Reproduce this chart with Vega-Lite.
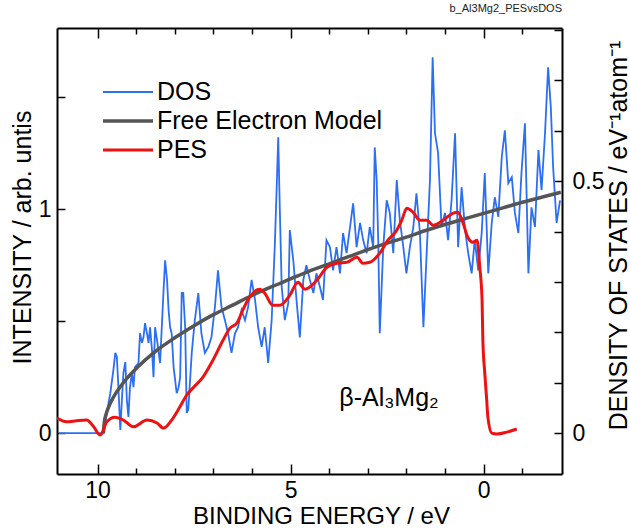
{
  "$schema": "https://vega.github.io/schema/vega-lite/v6.json",
  "width": 505,
  "height": 446,
  "autosize": "none",
  "padding": {"left": 57, "top": 28, "right": 68, "bottom": 55},
  "title": {"text": "b_Al3Mg2_PESvsDOS", "anchor": "end", "frame": "group", "fontSize": 11, "fontWeight": "normal", "font": "Liberation Sans", "color": "#222222", "offset": 5},
  "config": {
    "view": {"stroke": null},
    "font": "Liberation Sans",
    "axis": {"domainColor": "black", "domainWidth": 2, "tickColor": "black", "tickWidth": 1.5, "labelFont": "Liberation Sans", "labelFontSize": 23, "labelColor": "black", "titleFont": "Liberation Sans", "titleFontSize": 25, "titleFontWeight": "normal", "titleColor": "black", "grid": false, "labelOverlap": false, "labelFlush": false, "format": "~g"}
  },
  "datasets": {
    "dos": [
      {"be": 11.0, "v": 0, "s": "DOS"}, {"be": 9.84, "v": 0, "s": "DOS"}, {"be": 9.76, "v": 0.040, "s": "DOS"}, {"be": 9.67, "v": 0.079, "s": "DOS"}, {"be": 9.59, "v": 0.125, "s": "DOS"}, {"be": 9.54, "v": 0.159, "s": "DOS"}, {"be": 9.50, "v": 0.151, "s": "DOS"}, {"be": 9.46, "v": 0.091, "s": "DOS"}, {"be": 9.41, "v": 0.006, "s": "DOS"}, {"be": 9.37, "v": 0.065, "s": "DOS"}, {"be": 9.33, "v": 0.119, "s": "DOS"}, {"be": 9.28, "v": 0.141, "s": "DOS"}, {"be": 9.24, "v": 0.065, "s": "DOS"}, {"be": 9.20, "v": 0.032, "s": "DOS"}, {"be": 9.16, "v": 0.091, "s": "DOS"}, {"be": 9.11, "v": 0.119, "s": "DOS"}, {"be": 9.07, "v": 0.091, "s": "DOS"}, {"be": 9.03, "v": 0.131, "s": "DOS"}, {"be": 8.94, "v": 0.139, "s": "DOS"}, {"be": 8.90, "v": 0.198, "s": "DOS"}, {"be": 8.85, "v": 0.179, "s": "DOS"}, {"be": 8.81, "v": 0.190, "s": "DOS"}, {"be": 8.77, "v": 0.218, "s": "DOS"}, {"be": 8.72, "v": 0.198, "s": "DOS"}, {"be": 8.68, "v": 0.179, "s": "DOS"}, {"be": 8.64, "v": 0.210, "s": "DOS"}, {"be": 8.59, "v": 0.165, "s": "DOS"}, {"be": 8.55, "v": 0.111, "s": "DOS"}, {"be": 8.51, "v": 0.210, "s": "DOS"}, {"be": 8.46, "v": 0.185, "s": "DOS"}, {"be": 8.38, "v": 0.139, "s": "DOS"}, {"be": 8.29, "v": 0.284, "s": "DOS"}, {"be": 8.25, "v": 0.343, "s": "DOS"}, {"be": 8.20, "v": 0.304, "s": "DOS"}, {"be": 8.16, "v": 0.244, "s": "DOS"}, {"be": 8.12, "v": 0.210, "s": "DOS"}, {"be": 8.08, "v": 0.198, "s": "DOS"}, {"be": 8.03, "v": 0.131, "s": "DOS"}, {"be": 7.99, "v": 0.105, "s": "DOS"}, {"be": 7.95, "v": 0.079, "s": "DOS"}, {"be": 7.90, "v": 0.091, "s": "DOS"}, {"be": 7.86, "v": 0.111, "s": "DOS"}, {"be": 7.82, "v": 0.278, "s": "DOS"}, {"be": 7.78, "v": 0.278, "s": "DOS"}, {"be": 7.73, "v": 0.210, "s": "DOS"}, {"be": 7.69, "v": 0.040, "s": "DOS"}, {"be": 7.65, "v": 0.046, "s": "DOS"}, {"be": 7.56, "v": 0.159, "s": "DOS"}, {"be": 7.48, "v": 0.224, "s": "DOS"}, {"be": 7.39, "v": 0.278, "s": "DOS"}, {"be": 7.31, "v": 0.198, "s": "DOS"}, {"be": 7.22, "v": 0.159, "s": "DOS"}, {"be": 7.13, "v": 0.171, "s": "DOS"}, {"be": 7.05, "v": 0.190, "s": "DOS"}, {"be": 6.96, "v": 0.250, "s": "DOS"}, {"be": 6.88, "v": 0.323, "s": "DOS"}, {"be": 6.79, "v": 0.250, "s": "DOS"}, {"be": 6.70, "v": 0.224, "s": "DOS"}, {"be": 6.62, "v": 0.198, "s": "DOS"}, {"be": 6.53, "v": 0.159, "s": "DOS"}, {"be": 6.44, "v": 0.198, "s": "DOS"}, {"be": 6.36, "v": 0.210, "s": "DOS"}, {"be": 6.27, "v": 0.244, "s": "DOS"}, {"be": 6.18, "v": 0.224, "s": "DOS"}, {"be": 6.10, "v": 0.250, "s": "DOS"}, {"be": 6.01, "v": 0.304, "s": "DOS"}, {"be": 5.92, "v": 0.264, "s": "DOS"}, {"be": 5.84, "v": 0.210, "s": "DOS"}, {"be": 5.75, "v": 0.171, "s": "DOS"}, {"be": 5.67, "v": 0.210, "s": "DOS"}, {"be": 5.58, "v": 0.139, "s": "DOS"}, {"be": 5.49, "v": 0.224, "s": "DOS"}, {"be": 5.41, "v": 0.369, "s": "DOS"}, {"be": 5.36, "v": 0.488, "s": "DOS"}, {"be": 5.32, "v": 0.587, "s": "DOS"}, {"be": 5.28, "v": 0.448, "s": "DOS"}, {"be": 5.23, "v": 0.290, "s": "DOS"}, {"be": 5.15, "v": 0.224, "s": "DOS"}, {"be": 5.06, "v": 0.258, "s": "DOS"}, {"be": 5.02, "v": 0.403, "s": "DOS"}, {"be": 4.93, "v": 0.343, "s": "DOS"}, {"be": 4.84, "v": 0.258, "s": "DOS"}, {"be": 4.76, "v": 0.190, "s": "DOS"}, {"be": 4.67, "v": 0.304, "s": "DOS"}, {"be": 4.59, "v": 0.333, "s": "DOS"}, {"be": 4.50, "v": 0.304, "s": "DOS"}, {"be": 4.41, "v": 0.278, "s": "DOS"}, {"be": 4.33, "v": 0.317, "s": "DOS"}, {"be": 4.24, "v": 0.290, "s": "DOS"}, {"be": 4.16, "v": 0.264, "s": "DOS"}, {"be": 4.07, "v": 0.383, "s": "DOS"}, {"be": 3.98, "v": 0.369, "s": "DOS"}, {"be": 3.90, "v": 0.323, "s": "DOS"}, {"be": 3.81, "v": 0.369, "s": "DOS"}, {"be": 3.72, "v": 0.317, "s": "DOS"}, {"be": 3.64, "v": 0.397, "s": "DOS"}, {"be": 3.55, "v": 0.357, "s": "DOS"}, {"be": 3.46, "v": 0.409, "s": "DOS"}, {"be": 3.38, "v": 0.456, "s": "DOS"}, {"be": 3.29, "v": 0.369, "s": "DOS"}, {"be": 3.20, "v": 0.417, "s": "DOS"}, {"be": 3.12, "v": 0.383, "s": "DOS"}, {"be": 3.03, "v": 0.357, "s": "DOS"}, {"be": 2.95, "v": 0.409, "s": "DOS"}, {"be": 2.86, "v": 0.369, "s": "DOS"}, {"be": 2.82, "v": 0.567, "s": "DOS"}, {"be": 2.77, "v": 0.502, "s": "DOS"}, {"be": 2.73, "v": 0.383, "s": "DOS"}, {"be": 2.69, "v": 0.198, "s": "DOS"}, {"be": 2.60, "v": 0.369, "s": "DOS"}, {"be": 2.51, "v": 0.462, "s": "DOS"}, {"be": 2.43, "v": 0.437, "s": "DOS"}, {"be": 2.34, "v": 0.357, "s": "DOS"}, {"be": 2.25, "v": 0.502, "s": "DOS"}, {"be": 2.17, "v": 0.423, "s": "DOS"}, {"be": 2.08, "v": 0.369, "s": "DOS"}, {"be": 2.00, "v": 0.317, "s": "DOS"}, {"be": 1.91, "v": 0.369, "s": "DOS"}, {"be": 1.82, "v": 0.409, "s": "DOS"}, {"be": 1.74, "v": 0.476, "s": "DOS"}, {"be": 1.65, "v": 0.397, "s": "DOS"}, {"be": 1.56, "v": 0.210, "s": "DOS"}, {"be": 1.48, "v": 0.349, "s": "DOS"}, {"be": 1.39, "v": 0.502, "s": "DOS"}, {"be": 1.32, "v": 0.746, "s": "DOS"}, {"be": 1.26, "v": 0.595, "s": "DOS"}, {"be": 1.18, "v": 0.556, "s": "DOS"}, {"be": 1.09, "v": 0.409, "s": "DOS"}, {"be": 1.00, "v": 0.437, "s": "DOS"}, {"be": 0.92, "v": 0.383, "s": "DOS"}, {"be": 0.83, "v": 0.462, "s": "DOS"}, {"be": 0.74, "v": 0.595, "s": "DOS"}, {"be": 0.66, "v": 0.369, "s": "DOS"}, {"be": 0.57, "v": 0.488, "s": "DOS"}, {"be": 0.48, "v": 0.403, "s": "DOS"}, {"be": 0.40, "v": 0.357, "s": "DOS"}, {"be": 0.31, "v": 0.317, "s": "DOS"}, {"be": 0.23, "v": 0.383, "s": "DOS"}, {"be": 0.14, "v": 0.323, "s": "DOS"}, {"be": 0.05, "v": 0.397, "s": "DOS"}, {"be": -0.03, "v": 0.516, "s": "DOS"}, {"be": -0.12, "v": 0.317, "s": "DOS"}, {"be": -0.21, "v": 0.417, "s": "DOS"}, {"be": -0.29, "v": 0.468, "s": "DOS"}, {"be": -0.38, "v": 0.429, "s": "DOS"}, {"be": -0.47, "v": 0.548, "s": "DOS"}, {"be": -0.55, "v": 0.601, "s": "DOS"}, {"be": -0.64, "v": 0.496, "s": "DOS"}, {"be": -0.73, "v": 0.508, "s": "DOS"}, {"be": -0.81, "v": 0.437, "s": "DOS"}, {"be": -0.90, "v": 0.397, "s": "DOS"}, {"be": -0.98, "v": 0.516, "s": "DOS"}, {"be": -1.07, "v": 0.615, "s": "DOS"}, {"be": -1.16, "v": 0.317, "s": "DOS"}, {"be": -1.24, "v": 0.448, "s": "DOS"}, {"be": -1.33, "v": 0.409, "s": "DOS"}, {"be": -1.42, "v": 0.562, "s": "DOS"}, {"be": -1.50, "v": 0.482, "s": "DOS"}, {"be": -1.59, "v": 0.595, "s": "DOS"}, {"be": -1.67, "v": 0.726, "s": "DOS"}, {"be": -1.74, "v": 0.647, "s": "DOS"}, {"be": -1.80, "v": 0.528, "s": "DOS"}, {"be": -1.89, "v": 0.417, "s": "DOS"}, {"be": -1.98, "v": 0.462, "s": "DOS"}
    ],
    "fem": [
      {"be": 9.85, "v": 0, "s": "Free Electron Model"}, {"be": 9.82, "v": 0.024, "s": "Free Electron Model"}, {"be": 9.78, "v": 0.037, "s": "Free Electron Model"}, {"be": 9.7, "v": 0.054, "s": "Free Electron Model"}, {"be": 9.6, "v": 0.0695, "s": "Free Electron Model"}, {"be": 9.4, "v": 0.093, "s": "Free Electron Model"}, {"be": 9.2, "v": 0.112, "s": "Free Electron Model"}, {"be": 9.0, "v": 0.128, "s": "Free Electron Model"}, {"be": 8.5, "v": 0.162, "s": "Free Electron Model"}, {"be": 8.0, "v": 0.189, "s": "Free Electron Model"}, {"be": 7.5, "v": 0.213, "s": "Free Electron Model"}, {"be": 7.0, "v": 0.235, "s": "Free Electron Model"}, {"be": 6.5, "v": 0.254, "s": "Free Electron Model"}, {"be": 6.0, "v": 0.273, "s": "Free Electron Model"}, {"be": 5.5, "v": 0.290, "s": "Free Electron Model"}, {"be": 5.0, "v": 0.306, "s": "Free Electron Model"}, {"be": 4.5, "v": 0.322, "s": "Free Electron Model"}, {"be": 4.0, "v": 0.336, "s": "Free Electron Model"}, {"be": 3.5, "v": 0.350, "s": "Free Electron Model"}, {"be": 3.0, "v": 0.364, "s": "Free Electron Model"}, {"be": 2.5, "v": 0.377, "s": "Free Electron Model"}, {"be": 2.0, "v": 0.389, "s": "Free Electron Model"}, {"be": 1.5, "v": 0.402, "s": "Free Electron Model"}, {"be": 1.0, "v": 0.414, "s": "Free Electron Model"}, {"be": 0.5, "v": 0.425, "s": "Free Electron Model"}, {"be": 0.0, "v": 0.436, "s": "Free Electron Model"}, {"be": -0.5, "v": 0.447, "s": "Free Electron Model"}, {"be": -1.0, "v": 0.458, "s": "Free Electron Model"}, {"be": -1.5, "v": 0.468, "s": "Free Electron Model"}, {"be": -2.0, "v": 0.478, "s": "Free Electron Model"}
    ],
    "pes": [
      {"be": 11.05, "v": 0.067, "s": "PES"}, {"be": 10.80, "v": 0.050, "s": "PES"}, {"be": 10.54, "v": 0.055, "s": "PES"}, {"be": 10.28, "v": 0.058, "s": "PES"}, {"be": 10.10, "v": 0.028, "s": "PES"}, {"be": 9.93, "v": -0.009, "s": "PES"}, {"be": 9.76, "v": 0.050, "s": "PES"}, {"be": 9.55, "v": 0.071, "s": "PES"}, {"be": 9.33, "v": 0.058, "s": "PES"}, {"be": 9.07, "v": 0.028, "s": "PES"}, {"be": 8.72, "v": 0.058, "s": "PES"}, {"be": 8.46, "v": 0.045, "s": "PES"}, {"be": 8.29, "v": 0.022, "s": "PES"}, {"be": 8.08, "v": 0.058, "s": "PES"}, {"be": 7.87, "v": 0.116, "s": "PES"}, {"be": 7.69, "v": 0.170, "s": "PES"}, {"be": 7.53, "v": 0.201, "s": "PES"}, {"be": 7.27, "v": 0.250, "s": "PES"}, {"be": 7.01, "v": 0.326, "s": "PES"}, {"be": 6.75, "v": 0.415, "s": "PES"}, {"be": 6.57, "v": 0.469, "s": "PES"}, {"be": 6.39, "v": 0.491, "s": "PES"}, {"be": 6.24, "v": 0.549, "s": "PES"}, {"be": 6.06, "v": 0.607, "s": "PES"}, {"be": 5.80, "v": 0.643, "s": "PES"}, {"be": 5.67, "v": 0.625, "s": "PES"}, {"be": 5.46, "v": 0.571, "s": "PES"}, {"be": 5.28, "v": 0.571, "s": "PES"}, {"be": 5.02, "v": 0.616, "s": "PES"}, {"be": 4.81, "v": 0.674, "s": "PES"}, {"be": 4.63, "v": 0.643, "s": "PES"}, {"be": 4.32, "v": 0.683, "s": "PES"}, {"be": 4.06, "v": 0.741, "s": "PES"}, {"be": 3.80, "v": 0.759, "s": "PES"}, {"be": 3.54, "v": 0.763, "s": "PES"}, {"be": 3.28, "v": 0.786, "s": "PES"}, {"be": 3.13, "v": 0.759, "s": "PES"}, {"be": 2.95, "v": 0.763, "s": "PES"}, {"be": 2.69, "v": 0.804, "s": "PES"}, {"be": 2.48, "v": 0.862, "s": "PES"}, {"be": 2.25, "v": 0.906, "s": "PES"}, {"be": 2.12, "v": 0.951, "s": "PES"}, {"be": 1.99, "v": 1.004, "s": "PES"}, {"be": 1.83, "v": 0.987, "s": "PES"}, {"be": 1.65, "v": 0.951, "s": "PES"}, {"be": 1.47, "v": 0.951, "s": "PES"}, {"be": 1.31, "v": 0.929, "s": "PES"}, {"be": 1.05, "v": 0.951, "s": "PES"}, {"be": 0.80, "v": 0.982, "s": "PES"}, {"be": 0.67, "v": 0.987, "s": "PES"}, {"be": 0.54, "v": 0.942, "s": "PES"}, {"be": 0.41, "v": 0.875, "s": "PES"}, {"be": 0.28, "v": 0.853, "s": "PES"}, {"be": 0.17, "v": 0.862, "s": "PES"}, {"be": 0.10, "v": 0.741, "s": "PES"}, {"be": 0.04, "v": 0.594, "s": "PES"}, {"be": 0.02, "v": 0.415, "s": "PES"}, {"be": -0.03, "v": 0.268, "s": "PES"}, {"be": -0.08, "v": 0.147, "s": "PES"}, {"be": -0.11, "v": 0.071, "s": "PES"}, {"be": -0.21, "v": 0.0, "s": "PES"}, {"be": -0.34, "v": -0.004, "s": "PES"}, {"be": -0.60, "v": 0.004, "s": "PES"}, {"be": -0.86, "v": 0.018, "s": "PES"}
    ],
    "label": [{"t": "β-Al₃Mg₂", "be": 2.45, "v": 0.156}]
  },
  "layer": [
    {
      "data": {"name": "dos"},
      "mark": {"type": "line", "clip": true},
      "encoding": {
        "x": {"field": "be", "type": "quantitative", "scale": {"domain": [-2.03, 11.05], "reverse": true, "nice": false, "zero": false},
              "axis": {"orient": "bottom", "values": [-1, 0, 1, 2, 3, 4, 5, 6, 7, 8, 9, 10], "labelExpr": "datum.value % 5 == 0 ? datum.label : ''", "tickSize": {"condition": {"test": "datum.value % 5 == 0", "value": -10}, "value": -6}, "labelPadding": 15, "title": "BINDING ENERGY / eV", "titleX": 264, "titleY": 42, "titleFontSize": 24, "titleBaseline": "middle", "titleAlign": "center"}},
        "y": {"field": "v", "type": "quantitative", "scale": {"domain": [-0.0813, 0.804], "nice": false, "zero": false},
              "axis": {"orient": "right", "values": [0, 0.1, 0.2, 0.3, 0.4, 0.5, 0.6, 0.7, 0.8], "labelExpr": "datum.value == 0 || datum.value == 0.5 ? datum.label : ''", "tickSize": -8, "labelPadding": 18, "title": "DENSITY OF STATES / eV⁻¹atom⁻¹", "titleAngle": -90, "titleX": 56, "titleY": 207, "titleBaseline": "middle", "titleAlign": "center"}},
        "color": {"field": "s", "type": "nominal", "scale": {"domain": ["DOS", "Free Electron Model", "PES"], "range": ["#2b6ff2", "#555555", "#ee1111"]},
                  "legend": {"title": null, "orient": "none", "legendX": 44, "legendY": 52, "symbolType": "stroke", "symbolSize": 2500, "labelFontSize": 25, "labelFont": "Liberation Sans", "labelColor": "black", "labelOffset": 2, "labelLimit": 0, "clipHeight": 24, "rowPadding": 4, "padding": 0}},
        "strokeWidth": {"field": "s", "type": "nominal", "scale": {"type": "ordinal", "domain": ["DOS", "Free Electron Model", "PES"], "range": [1.8, 3.5, 3]}, "legend": {"title": null, "orient": "none", "legendX": 44, "legendY": 52, "symbolType": "stroke", "symbolSize": 2500, "labelFontSize": 25, "labelFont": "Liberation Sans", "labelColor": "black", "labelOffset": 2, "labelLimit": 0, "clipHeight": 24, "rowPadding": 4, "padding": 0}}
      }
    },
    {
      "data": {"name": "fem"},
      "mark": {"type": "line", "clip": true, "interpolate": "monotone"},
      "encoding": {
        "x": {"field": "be", "type": "quantitative", "scale": {"domain": [-2.03, 11.05], "reverse": true, "nice": false, "zero": false},
              "axis": {"orient": "top", "values": [-1, 0, 1, 2, 3, 4, 5, 6, 7, 8, 9, 10], "labels": false, "tickSize": {"condition": {"test": "datum.value % 5 == 0", "value": -10}, "value": -6}, "title": null}},
        "y": {"field": "v", "type": "quantitative", "scale": {"domain": [-0.0813, 0.804], "nice": false, "zero": false}, "axis": null},
        "color": {"field": "s", "type": "nominal", "scale": {"domain": ["DOS", "Free Electron Model", "PES"], "range": ["#2b6ff2", "#555555", "#ee1111"]}},
        "strokeWidth": {"field": "s", "type": "nominal", "scale": {"type": "ordinal", "domain": ["DOS", "Free Electron Model", "PES"], "range": [1.8, 3.5, 3]}}
      }
    },
    {
      "data": {"name": "pes"},
      "mark": {"type": "line", "clip": true, "interpolate": "monotone"},
      "encoding": {
        "x": {"field": "be", "type": "quantitative", "scale": {"domain": [-2.03, 11.05], "reverse": true, "nice": false, "zero": false}, "axis": null},
        "y": {"field": "v", "type": "quantitative", "scale": {"domain": [-0.183, 1.81], "nice": false, "zero": false},
              "axis": {"orient": "left", "values": [0, 0.5, 1, 1.5], "labelExpr": "datum.value == 0 || datum.value == 1 ? datum.label : ''", "tickSize": -8, "labelPadding": 14, "title": "INTENSITY / arb. untis", "titleAngle": -90, "titleX": -35, "titleY": 209, "titleBaseline": "middle", "titleAlign": "center"}},
        "color": {"field": "s", "type": "nominal", "scale": {"domain": ["DOS", "Free Electron Model", "PES"], "range": ["#2b6ff2", "#555555", "#ee1111"]}},
        "strokeWidth": {"field": "s", "type": "nominal", "scale": {"type": "ordinal", "domain": ["DOS", "Free Electron Model", "PES"], "range": [1.8, 3.5, 3]}}
      }
    },
    {
      "mark": {"type": "rule", "color": "black", "strokeWidth": 1.2},
      "encoding": {"y": {"datum": 0, "type": "quantitative", "scale": {"domain": [-0.183, 1.81], "nice": false, "zero": false}, "axis": null}}
    },
    {
      "mark": {"type": "rule", "color": "black", "strokeWidth": 1.2},
      "encoding": {
        "x": {"datum": 0, "type": "quantitative", "scale": {"domain": [-2.03, 11.05], "reverse": true, "nice": false, "zero": false}, "axis": null},
        "y": {"datum": 1.732, "type": "quantitative", "scale": {"domain": [-0.183, 1.81], "nice": false, "zero": false}, "axis": null},
        "y2": {"datum": -0.129}
      }
    },
    {
      "data": {"name": "label"},
      "mark": {"type": "text", "fontSize": 25, "font": "Liberation Sans", "color": "black", "align": "center", "baseline": "middle"},
      "encoding": {
        "x": {"field": "be", "type": "quantitative", "scale": {"domain": [-2.03, 11.05], "reverse": true, "nice": false, "zero": false}, "axis": null},
        "y": {"field": "v", "type": "quantitative", "scale": {"domain": [-0.183, 1.81], "nice": false, "zero": false}, "axis": null},
        "text": {"field": "t", "type": "nominal"}
      }
    }
  ],
  "resolve": {"scale": {"y": "independent"}, "axis": {"x": "independent", "y": "independent"}}
}
